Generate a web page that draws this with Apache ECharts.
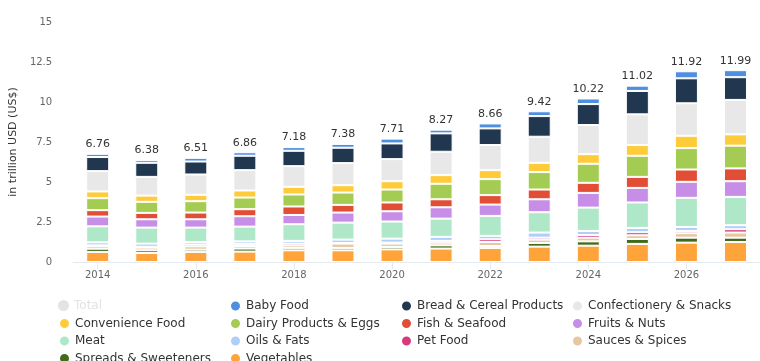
<!DOCTYPE html>
<html>
<head>
<meta charset="utf-8">
<script src="https://cdn.jsdelivr.net/npm/echarts@6/dist/echarts.min.js"></script>
<style>
  html, body { margin: 0; padding: 0; background: #fff; }
  #chart { width: 760px; height: 361px; }
</style>
</head>
<body>
<div id="chart"></div>
<script>
const years = ['2014','2015','2016','2017','2018','2019','2020','2021','2022','2023','2024','2025','2026','2027'];
const totals = [6.76, 6.38, 6.51, 6.86, 7.18, 7.38, 7.71, 8.27, 8.66, 9.42, 10.22, 11.02, 11.92, 11.99];

const vegetables    = [0.63, 0.56, 0.63, 0.65, 0.73, 0.73, 0.79, 0.84, 0.88, 0.96, 1.02, 1.13, 1.21, 1.25];
const spreads       = [0.20, 0.17, 0.14, 0.19, 0.15, 0.15, 0.15, 0.20, 0.12, 0.23, 0.27, 0.31, 0.31, 0.27];
const sauces        = [0.16, 0.17, 0.21, 0.16, 0.16, 0.27, 0.21, 0.17, 0.25, 0.21, 0.23, 0.23, 0.28, 0.32];
const petFood       = [0.05, 0.05, 0.11, 0.13, 0.11, 0.04, 0.06, 0.11, 0.17, 0.12, 0.17, 0.19, 0.14, 0.21];
const oilsFats      = [0.19, 0.20, 0.16, 0.16, 0.17, 0.21, 0.25, 0.25, 0.21, 0.32, 0.25, 0.27, 0.25, 0.25];
const meat          = [1.00, 1.00, 0.90, 0.92, 1.04, 1.06, 1.07, 1.14, 1.25, 1.27, 1.46, 1.59, 1.82, 1.77];
const fruitsNuts    = [0.61, 0.52, 0.52, 0.65, 0.58, 0.63, 0.64, 0.71, 0.71, 0.81, 0.92, 0.91, 1.00, 0.98];
const fishSeafood   = [0.40, 0.40, 0.42, 0.44, 0.53, 0.48, 0.55, 0.50, 0.59, 0.61, 0.63, 0.69, 0.77, 0.80];
const dairyEggs     = [0.75, 0.69, 0.71, 0.73, 0.75, 0.77, 0.81, 0.97, 1.00, 1.09, 1.19, 1.32, 1.34, 1.42];
const convenience   = [0.42, 0.39, 0.40, 0.44, 0.48, 0.46, 0.52, 0.54, 0.56, 0.58, 0.60, 0.67, 0.77, 0.71];
const confectionery = [1.27, 1.17, 1.27, 1.27, 1.29, 1.38, 1.38, 1.46, 1.57, 1.63, 1.82, 1.92, 2.03, 2.15];
const breadCereal   = [0.88, 0.88, 0.81, 0.90, 0.96, 0.96, 0.98, 1.15, 1.04, 1.29, 1.31, 1.46, 1.56, 1.42];
const babyFood      = [0.20, 0.18, 0.23, 0.22, 0.23, 0.24, 0.30, 0.23, 0.31, 0.30, 0.35, 0.33, 0.44, 0.44];

const yTicks = { min: 0, max: 15, interval: 2.5 };

// legend layout: rows of names (4 columns)
const legendRows = [
  ['Total', 'Baby Food', 'Bread & Cereal Products', 'Confectionery & Snacks'],
  ['Convenience Food', 'Dairy Products & Eggs', 'Fish & Seafood', 'Fruits & Nuts'],
  ['Meat', 'Oils & Fats', 'Pet Food', 'Sauces & Spices'],
  ['Spreads & Sweeteners', 'Vegetables']
];

const FONT = 'DejaVu Sans';

// stack order: bottom to top
const stackDefs = [
  ['Vegetables', vegetables, '#fea43b'],
  ['Spreads & Sweeteners', spreads, '#3f6b1b'],
  ['Sauces & Spices', sauces, '#e6c79f'],
  ['Pet Food', petFood, '#d93a7e'],
  ['Oils & Fats', oilsFats, '#aecffa'],
  ['Meat', meat, '#aee8c8'],
  ['Fruits & Nuts', fruitsNuts, '#c68ee6'],
  ['Fish & Seafood', fishSeafood, '#e24d36'],
  ['Dairy Products & Eggs', dairyEggs, '#a4cc52'],
  ['Convenience Food', convenience, '#fecc3b'],
  ['Confectionery & Snacks', confectionery, '#e8e8e8'],
  ['Bread & Cereal Products', breadCereal, '#21364f'],
  ['Baby Food', babyFood, '#4f8fe0']
];

const series = [{
  name: 'Total',
  type: 'bar',
  data: totals,
  barWidth: 23,
  itemStyle: { color: '#ffffff', borderColor: '#cccccc' }
}];

stackDefs.forEach(function (d, i) {
  const s = {
    name: d[0],
    type: 'bar',
    stack: 'all',
    data: d[1],
    barWidth: 23,
    itemStyle: { color: d[2], borderColor: '#ffffff', borderWidth: 1 },
    emphasis: { disabled: true }
  };
  if (i === stackDefs.length - 1) {
    s.label = {
      show: true,
      position: 'top',
      distance: 4,
      fontFamily: FONT,
      fontSize: 11,
      color: '#333333',
      formatter: function (p) { return totals[p.dataIndex].toFixed(2); }
    };
  }
  series.push(s);
});

const colLeft = [58, 229, 400, 571];
const rowTop = [299.5, 317, 334.5, 352];
const legends = [];
legendRows.forEach(function (row, r) {
  row.forEach(function (name, c) {
    legends.push({
      orient: 'horizontal',
      left: colLeft[c],
      top: rowTop[r],
      padding: 0,
      itemWidth: 11,
      itemHeight: 11,
      icon: 'circle',
      inactiveColor: '#e3e3e3',
      textStyle: { fontFamily: FONT, fontSize: 12, color: '#333333' },
      data: [name],
      selected: { 'Total': false }
    });
  });
});

const option = {
  animation: false,
  backgroundColor: '#ffffff',
  grid: { left: 71, top: 22, width: 697, height: 240, containLabel: false },
  legend: legends,
  xAxis: {
    type: 'category',
    data: years,
    axisLine: { lineStyle: { color: '#e3eaf1' } },
    axisTick: { show: true, interval: 1, alignWithLabel: true, length: 7, lineStyle: { color: '#e3eaf1' } },
    axisLabel: { interval: 1, fontFamily: FONT, fontSize: 10, color: '#666666', margin: 8 }
  },
  yAxis: {
    type: 'value',
    min: yTicks.min,
    max: yTicks.max,
    interval: yTicks.interval,
    name: 'in trillion USD (US$)',
    nameLocation: 'middle',
    nameGap: 49,
    nameTextStyle: { fontFamily: FONT, fontSize: 11, color: '#333333' },
    axisLine: { show: false },
    axisTick: { show: false },
    splitLine: { show: false },
    axisLabel: { fontFamily: FONT, fontSize: 10, color: '#666666', margin: 21 }
  },
  series: series
};

const chart = echarts.init(document.getElementById('chart'), null, { renderer: 'canvas' });
chart.setOption(option);
</script>
</body>
</html>
